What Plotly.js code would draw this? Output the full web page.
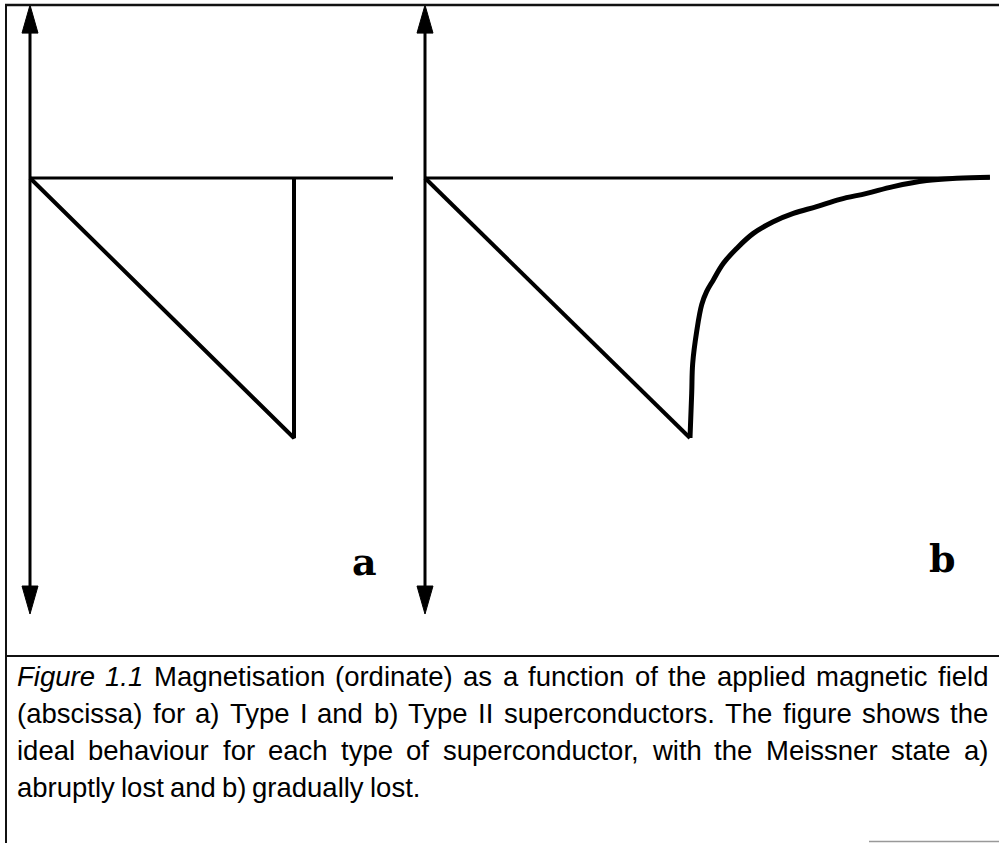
<!DOCTYPE html>
<html>
<head>
<meta charset="utf-8">
<script src="https://cdn.plot.ly/plotly-3.0.1.min.js"></script>
<style>html,body{margin:0;padding:0;background:#fff;}#chart{width:999px;height:843px;}</style>
</head>
<body>
<div id="chart"></div>
<script>
// ---- data (field H / Hc, magnetisation M / Mc) ----
var typeI_H = [0, 1, 1];
var typeI_M = [0, -1, 0];
var zeroA_H = [0, 1.375];
var zeroA_M = [0, 0];

var meissnerB_H = [0, 1];
var meissnerB_M = [0, -1];
var mixedB_H = [1.0, 1.0064, 1.0102, 1.0253, 1.0442, 1.063, 1.088, 1.126, 1.176, 1.239, 1.314, 1.390, 1.478, 1.566, 1.667, 1.767, 1.893, 2.006, 2.132];
var mixedB_M = [-1.0, -0.828, -0.713, -0.590, -0.487, -0.436, -0.392, -0.328, -0.271, -0.213, -0.168, -0.136, -0.110, -0.082, -0.059, -0.033, -0.010, -0.001, 0.003];
var zeroB_H = [0, 2.13];
var zeroB_M = [0, 0];

var axisTopM = 0.665;
var axisBottomM = -1.677;

var panelLabels = ['a', 'b'];
var captionLines = [
  "Figure 1.1 Magnetisation (ordinate) as a function of the applied magnetic field",
  "(abscissa) for a) Type I and b) Type II superconductors. The figure shows the",
  "ideal behaviour for each type of superconductor, with the Meissner state a)",
  "abruptly lost and b) gradually lost."
];
var italicWords = 2; // "Figure 1.1"

// ---- layout geometry ----
var W = 999, H = 843;
function rangeFor(px0, px1, originPx, unit) { return [(px0 - originPx) / unit, (px1 - originPx) / unit]; }
var splitPx = 409.6;
var xRangeA = rangeFor(0, splitPx, 30, 264);
var xRangeB = rangeFor(splitPx, W, 425, 265);
var yUnit = 260, yOrigin = 178;
var yRange = [(yOrigin - H) / yUnit, yOrigin / yUnit];

var black = '#000';
var traces = [
  {x: zeroA_H, y: zeroA_M, xaxis: 'x', yaxis: 'y', mode: 'lines', line: {color: black, width: 3}},
  {x: typeI_H, y: typeI_M, xaxis: 'x', yaxis: 'y', mode: 'lines', line: {color: black, width: 4}},
  {x: zeroB_H, y: zeroB_M, xaxis: 'x2', yaxis: 'y', mode: 'lines', line: {color: black, width: 3}},
  {x: meissnerB_H, y: meissnerB_M, xaxis: 'x2', yaxis: 'y', mode: 'lines', line: {color: black, width: 4}},
  {x: mixedB_H, y: mixedB_M, xaxis: 'x2', yaxis: 'y', mode: 'lines', line: {color: black, width: 5, shape: 'spline', smoothing: 1.1}}
];

var shapes = [];
// ordinate axes with arrowheads
[['x', 'y'], ['x2', 'y']].forEach(function (ax) {
  shapes.push({type: 'line', xref: ax[0], yref: ax[1], x0: 0, x1: 0, y0: axisBottomM + 0.05, y1: axisTopM - 0.05, line: {color: black, width: 3}});
  shapes.push({type: 'path', xref: ax[0], yref: ax[1], xsizemode: 'pixel', ysizemode: 'pixel', xanchor: 0, yanchor: axisTopM,
    path: 'M0,0 L-8,-28 L8,-28 Z', fillcolor: black, line: {color: black, width: 1}});
  shapes.push({type: 'path', xref: ax[0], yref: ax[1], xsizemode: 'pixel', ysizemode: 'pixel', xanchor: 0, yanchor: axisBottomM,
    path: 'M0,0 L-8,28 L8,28 Z', fillcolor: black, line: {color: black, width: 1}});
});
function px2x(px) { return px / W; }
function py2y(py) { return 1 - py / H; }
// frame
shapes.push({type: 'line', xref: 'paper', yref: 'paper', x0: px2x(6), x1: px2x(6), y0: py2y(4), y1: py2y(843), line: {color: '#111', width: 2}});
shapes.push({type: 'line', xref: 'paper', yref: 'paper', x0: px2x(5), x1: px2x(999), y0: py2y(5), y1: py2y(5), line: {color: '#111', width: 2.5}});
shapes.push({type: 'line', xref: 'paper', yref: 'paper', x0: px2x(5), x1: px2x(999), y0: py2y(656), y1: py2y(656), line: {color: '#111', width: 2}});
shapes.push({type: 'line', xref: 'paper', yref: 'paper', x0: px2x(869), x1: px2x(999), y0: py2y(841.5), y1: py2y(841.5), line: {color: '#999', width: 1.5}});

var annotations = [];
// panel labels
annotations.push({xref: 'paper', yref: 'paper', x: px2x(364), y: py2y(561), text: '<b>' + panelLabels[0] + '</b>', showarrow: false, xanchor: 'center', yanchor: 'middle',
  font: {family: 'DejaVu Serif', size: 38, color: black}});
annotations.push({xref: 'paper', yref: 'paper', x: px2x(942), y: py2y(558), text: '<b>' + panelLabels[1] + '</b>', showarrow: false, xanchor: 'center', yanchor: 'middle',
  font: {family: 'DejaVu Serif', size: 38, color: black}});

// caption, justified like the reference (last line left-aligned)
var capFamily = 'Liberation Sans';
var cv = document.createElement('canvas').getContext('2d');
function measure(txt, size, italic) { cv.font = (italic ? 'italic ' : '') + size + 'px "' + capFamily + '"'; return cv.measureText(txt).width; }
var leftPx = 17, rightPx = 988;
var l1w = 0, l1words = captionLines[0].split(' ');
l1words.forEach(function (w, wi) { l1w += measure(w, 100, wi < italicWords); });
l1w += measure(' ', 100, false) * (l1words.length - 1);
var capSize = Math.round((rightPx - leftPx) / l1w * 100 * 0.97 * 10) / 10;
var lineY = [676, 713, 750, 787];
captionLines.forEach(function (line, li) {
  var words = line.split(' ');
  var widths = words.map(function (w, wi) { return measure(w, capSize, li === 0 && wi < italicWords); });
  var total = widths.reduce(function (a, b) { return a + b; }, 0);
  var gap = (li < 3) ? (rightPx - leftPx - total) / (words.length - 1) : measure(' ', capSize, false) * 0.8;
  var x = leftPx;
  words.forEach(function (w, wi) {
    var it = (li === 0 && wi < italicWords);
    annotations.push({xref: 'paper', yref: 'paper', x: px2x(x), y: py2y(lineY[li]), text: it ? '<i>' + w + '</i>' : w,
      showarrow: false, xanchor: 'left', yanchor: 'middle', borderpad: 0, borderwidth: 0,
      font: {family: capFamily, size: capSize, color: black}});
    x += widths[wi] + gap;
  });
});

var layout = {
  width: W, height: H,
  margin: {l: 0, r: 0, t: 0, b: 0},
  paper_bgcolor: '#fff', plot_bgcolor: '#fff',
  showlegend: false,
  xaxis: {domain: [0, splitPx / W], range: xRangeA, visible: false, fixedrange: true},
  xaxis2: {domain: [splitPx / W, 1], range: xRangeB, visible: false, anchor: 'y', fixedrange: true},
  yaxis: {domain: [0, 1], range: yRange, visible: false, fixedrange: true},
  shapes: shapes,
  annotations: annotations
};
Plotly.newPlot('chart', traces, layout, {staticPlot: true, displayModeBar: false});
</script>
</body>
</html>
